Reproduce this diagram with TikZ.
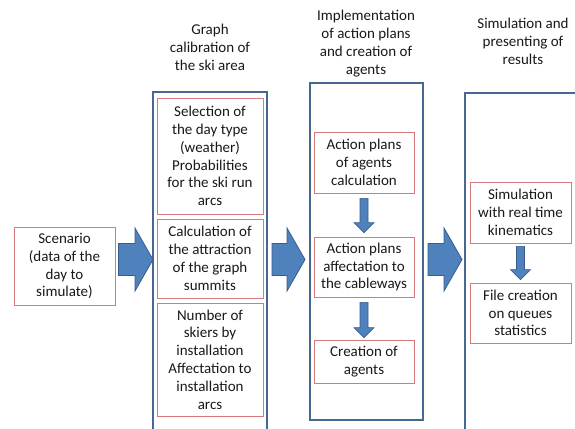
\documentclass[tikz,border=0pt]{standalone}
\usepackage{fontspec}
\setmainfont{Carlito}
\usetikzlibrary{calc}
\definecolor{colline}{RGB}{72,104,148}
\definecolor{boxline}{RGB}{214,122,124}
\definecolor{arrowfill}{RGB}{79,129,189}
\definecolor{arrowline}{RGB}{56,93,138}
\definecolor{txt}{RGB}{25,25,25}
\newcommand\blockarrow[2]{%
  \filldraw[fill=arrowfill,draw=arrowline,line width=0.8pt,line join=miter]
    let \p1=#1, \p2=#2 in
    (\x1,\y1+16) -- (\x2-18,\y1+16) -- (\x2-18,\y1+31.5) -- (\x2,\y1)
    -- (\x2-18,\y1-31.5) -- (\x2-18,\y1-16) -- (\x1,\y1-16) -- cycle;}
\newcommand\smallarrow[2]{%
  \filldraw[fill=arrowfill,draw=arrowline,line width=0.6pt,line join=miter]
    let \p1=#1, \p2=#2 in
    (\x1-4,\y1) -- (\x1-4,\y2+10) -- (\x1-10,\y2+10) -- (\x1,\y2)
    -- (\x1+10,\y2+10) -- (\x1+4,\y2+10) -- (\x1+4,\y1) -- cycle;}
\begin{document}
\begin{tikzpicture}[x=1pt,y=-1pt,
  every node/.style={font=\fontsize{15}{17.8}\selectfont,text=txt,align=center,inner sep=0pt},
  column/.style={draw=colline,line width=1.6pt},
  redbox/.style={draw=boxline,line width=0.8pt,rectangle}]
\useasboundingbox (0,0) rectangle (575,428);
\clip (0,0) rectangle (575,428);
\fill[white] (0,0) rectangle (575,428);

% titles
\node (t1) at (210,47.5) {Graph\\calibration of\\the ski area};
\node (t2) at (366,43.5) {Implementation\\of action plans\\and creation of\\agents};
\node (t3) at (523,41.5) {Simulation and\\presenting of\\results};

% column frames
\draw[column] (153,92) rectangle (267,445);
\draw[column] (310,83) rectangle (423,420);
\draw[column] (465,93) rectangle (600,445);
\coordinate (c1w) at (153,259.5);
\coordinate (c1e) at (267,259.5);
\coordinate (c2w) at (310,259.5);
\coordinate (c2e) at (423,259.5);
\coordinate (c3w) at (465,259.5);

% scenario
\node[redbox,minimum width=101pt,minimum height=78pt] (scen) at (64.5,266)
  {Scenario\\(data of the\\day to\\simulate)};

% column 1 boxes
\node[redbox,minimum width=106pt,minimum height=116pt] (b11) at (210,156)
  {Selection of\\the day type\\(weather)\\Probabilities\\for the ski run\\arcs};
\node[redbox,minimum width=106pt,minimum height=79pt] (b12) at (210,258.5)
  {Calculation of\\the attraction\\of the graph\\summits};
\node[redbox,minimum width=106pt,minimum height=113pt] (b13) at (210,359.5)
  {Number of\\skiers by\\installation\\Affectation to\\installation\\arcs};

% column 2 boxes
\node[redbox,minimum width=100pt,minimum height=61pt] (b21) at (364,162.5)
  {Action plans\\of agents\\calculation};
\node[redbox,minimum width=100pt,minimum height=60pt] (b22) at (364,267)
  {Action plans\\affectation to\\the cableways};
\node[redbox,minimum width=100pt,minimum height=43pt] (b23) at (364,361.5)
  {Creation of\\agents};

% column 3 boxes
\node[redbox,minimum width=101pt,minimum height=61pt] (b31) at (520.5,212.5)
  {Simulation\\with real time\\kinematics};
\node[redbox,minimum width=101pt,minimum height=60pt] (b32) at (520.5,313)
  {File creation\\on queues\\statistics};

% big arrows
\coordinate (a1s) at ($(scen.east |- c1w)+(3,0)$);
\blockarrow{(a1s)}{(c1w)}
\coordinate (a2s) at ($(c1e)+(5,0)$);
\coordinate (a2e) at ($(c2w)+(-5,0)$);
\blockarrow{(a2s)}{(a2e)}
\coordinate (a3s) at ($(c2e)+(5,0)$);
\coordinate (a3e) at ($(c3w)+(-3,0)$);
\blockarrow{(a3s)}{(a3e)}

% small arrows
\smallarrow{($(b21.south)+(0,5)$)}{($(b22.north)+(0,-4)$)}
\smallarrow{($(b22.south)+(0,5)$)}{($(b23.north)+(0,-2)$)}
\smallarrow{($(b31.south)+(0,3)$)}{($(b32.north)+(0,-3)$)}
\end{tikzpicture}
\end{document}
